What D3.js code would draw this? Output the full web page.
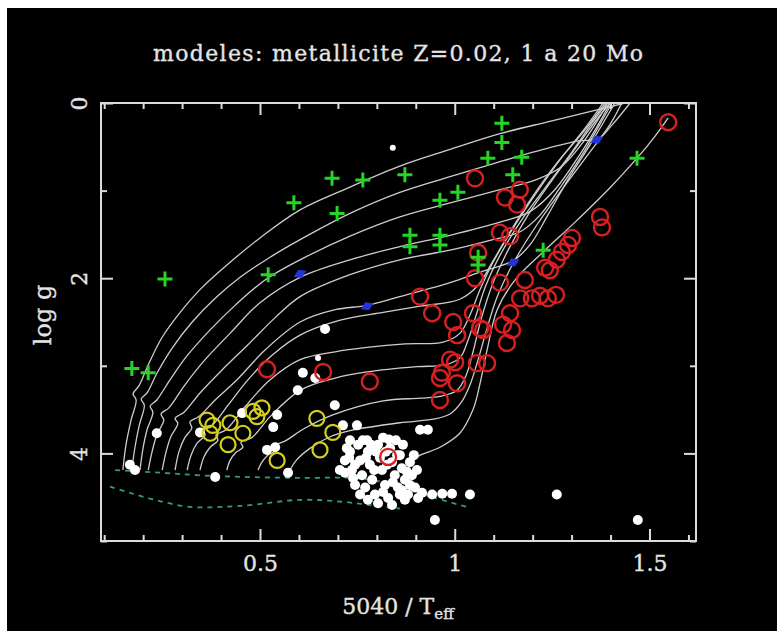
<!DOCTYPE html>
<html>
<head>
<meta charset="utf-8">
<script src="https://cdn.jsdelivr.net/npm/d3@7"></script>
<style>
  html, body { margin: 0; padding: 0; background: #ffffff; }
  svg { display: block; }
  text { font-family: "DejaVu Serif", serif; fill: #e4e4e4; stroke: #e4e4e4; stroke-width: 0.35px; }
</style>
</head>
<body>
<svg id="chart" width="784" height="631"></svg>
<script>
// Evolutionary tracks, Z = 0.02, in the (5040/Teff, log g) plane: [theta, logg]
const track20 = [[0.148,4.19],[0.156,3.90],[0.169,3.62],[0.182,3.39],[0.174,3.32],[0.189,3.23],[0.212,3.00],[0.248,2.68],[0.295,2.39],[0.346,2.13],[0.415,1.85],[0.500,1.54],[0.603,1.22],[0.731,0.96],[0.859,0.72],[0.988,0.53],[1.116,0.35],[1.244,0.21],[1.373,0.07],[1.437,0.00]];
const track15 = [[0.171,4.19],[0.179,3.93],[0.190,3.68],[0.203,3.45],[0.195,3.38],[0.210,3.31],[0.236,3.08],[0.274,2.80],[0.326,2.50],[0.385,2.23],[0.449,1.99],[0.526,1.76],[0.603,1.56],[0.731,1.26],[0.859,1.02],[0.988,0.84],[1.116,0.67],[1.244,0.51],[1.321,0.43],[1.368,0.41],[1.404,0.25],[1.450,0.00]];
const track12 = [[0.192,4.19],[0.199,3.96],[0.210,3.73],[0.225,3.53],[0.218,3.46],[0.235,3.39],[0.269,3.16],[0.312,2.89],[0.372,2.59],[0.436,2.31],[0.513,2.02],[0.603,1.79],[0.731,1.52],[0.859,1.30],[0.988,1.14],[1.116,0.99],[1.206,0.88],[1.270,0.74],[1.334,0.42],[1.393,0.00]];
const track9 = [[0.213,4.19],[0.223,3.98],[0.235,3.79],[0.253,3.62],[0.246,3.55],[0.266,3.48],[0.307,3.22],[0.359,2.93],[0.423,2.63],[0.500,2.28],[0.603,1.99],[0.731,1.79],[0.859,1.64],[0.988,1.51],[1.116,1.36],[1.193,1.24],[1.257,0.99],[1.321,0.59],[1.368,0.25],[1.399,0.00]];
const track7 = [[0.249,4.19],[0.259,3.98],[0.271,3.81],[0.289,3.66],[0.282,3.60],[0.305,3.53],[0.346,3.31],[0.402,3.05],[0.469,2.76],[0.539,2.45],[0.603,2.21],[0.731,1.96],[0.859,1.79],[0.988,1.68],[1.098,1.56],[1.168,1.47],[1.219,1.28],[1.270,0.97],[1.334,0.54],[1.386,0.14],[1.404,0.00]];
const track5 = [[0.282,4.19],[0.292,3.98],[0.307,3.82],[0.325,3.71],[0.320,3.64],[0.343,3.58],[0.385,3.39],[0.441,3.16],[0.513,2.82],[0.603,2.50],[0.693,2.36],[0.775,2.31],[0.859,2.21],[0.988,2.05],[1.065,1.93],[1.150,1.80],[1.193,1.62],[1.239,1.28],[1.290,0.88],[1.347,0.48],[1.398,0.10],[1.411,0.00]];
const track4 = [[0.313,4.19],[0.323,4.02],[0.339,3.88],[0.359,3.79],[0.354,3.73],[0.377,3.68],[0.418,3.45],[0.469,3.16],[0.531,2.88],[0.603,2.65],[0.706,2.48],[0.816,2.39],[0.911,2.32],[1.013,2.24],[1.060,2.08],[1.096,1.82],[1.142,1.47],[1.198,1.08],[1.265,0.67],[1.334,0.31],[1.386,0.00]];
const track3 = [[0.346,4.19],[0.356,4.04],[0.372,3.93],[0.392,3.85],[0.387,3.79],[0.413,3.73],[0.461,3.47],[0.526,3.16],[0.603,2.93],[0.693,2.84],[0.775,2.79],[0.873,2.75],[0.970,2.73],[1.013,2.63],[1.039,2.42],[1.065,2.13],[1.098,1.82],[1.147,1.45],[1.206,1.05],[1.270,0.65],[1.334,0.29],[1.381,0.00]];
const track2p5 = [[0.415,4.19],[0.423,4.08],[0.438,3.99],[0.456,3.93],[0.451,3.87],[0.479,3.82],[0.526,3.58],[0.603,3.28],[0.693,3.14],[0.775,3.07],[0.903,3.01],[0.975,2.99],[1.013,2.91],[1.034,2.71],[1.055,2.42],[1.080,2.08],[1.116,1.74],[1.168,1.36],[1.232,0.97],[1.296,0.59],[1.352,0.23],[1.391,0.00]];
const track2 = [[0.495,4.19],[0.505,4.10],[0.520,4.02],[0.539,3.97],[0.534,3.92],[0.564,3.86],[0.616,3.71],[0.687,3.56],[0.816,3.40],[0.911,3.37],[0.962,3.35],[1.006,3.28],[1.029,3.11],[1.047,2.84],[1.067,2.48],[1.096,2.08],[1.137,1.68],[1.188,1.28],[1.250,0.88],[1.316,0.48],[1.373,0.14],[1.399,0.00]];
const track1p5 = [[0.577,4.19],[0.593,4.08],[0.629,3.94],[0.680,3.81],[0.731,3.74],[0.859,3.65],[0.944,3.61],[0.988,3.55],[1.018,3.41],[1.039,3.22],[1.060,2.93],[1.083,2.57],[1.111,2.19],[1.155,1.79],[1.211,1.39],[1.275,0.99],[1.342,0.59],[1.398,0.25],[1.429,0.00]];
const track1 = [[0.872,4.28],[0.885,4.14],[0.903,4.04],[0.962,3.93],[1.013,3.77],[1.047,3.50],[1.065,3.20],[1.083,2.82],[1.109,2.36],[1.155,2.02],[1.227,1.70],[1.309,1.36],[1.398,0.97],[1.468,0.63],[1.514,0.38],[1.548,0.17]];
const tracks = [track20, track15, track12, track9, track7, track5, track4, track3, track2p5, track2, track1p5, track1];

// Zero-age main sequence limits (dashed)
const zamsUpper = [[0.128,4.19],[0.243,4.22],[0.346,4.25],[0.474,4.27],[0.603,4.28],[0.731,4.28],[0.808,4.32],[0.872,4.39],[0.936,4.49],[1.039,4.62]];
const zamsLower = [[0.115,4.38],[0.166,4.45],[0.230,4.53],[0.320,4.61],[0.449,4.60],[0.603,4.53],[0.706,4.55],[0.783,4.59],[0.859,4.63]];

// Observed stars
const greenStars = [[0.171,3.03],[0.213,3.08],[0.256,2.01],[0.521,1.96],[0.587,1.14],[0.685,0.86],[0.764,0.88],[0.872,0.82],[0.698,1.26],[0.962,1.11],[1.008,1.02],[0.885,1.51],[0.885,1.64],[0.962,1.51],[0.962,1.62],[1.060,1.76],[1.060,1.85],[1.085,0.63],[1.121,0.23],[1.121,0.45],[1.172,0.62],[1.149,0.82],[1.227,1.68],[1.468,0.63]];
const redStars = [[1.548,0.22],[1.052,0.86],[1.167,0.99],[1.129,1.08],[1.160,1.16],[1.116,1.48],[1.142,1.52],[1.060,1.71],[1.052,2.00],[0.911,2.21],[0.942,2.40],[0.996,2.50],[1.006,2.65],[1.047,2.40],[1.065,2.57],[1.124,2.53],[1.134,2.74],[1.116,2.05],[1.180,2.02],[1.198,2.23],[1.219,2.20],[1.239,2.23],[1.260,2.19],[1.244,1.91],[1.262,1.79],[1.275,1.70],[1.291,1.62],[1.301,1.54],[1.373,1.30],[1.378,1.42],[0.988,2.93],[1.001,2.96],[1.057,2.97],[1.083,2.97],[0.962,3.14],[1.006,3.20],[0.962,3.39],[0.518,3.04],[0.662,3.07],[0.782,3.18],[0.829,4.04],[1.147,2.59],[1.073,2.59],[0.967,3.08],[1.168,2.23],[1.232,1.88],[1.142,2.40]];
const yellowStars = [[0.364,3.62],[0.379,3.68],[0.372,3.77],[0.423,3.65],[0.456,3.77],[0.418,3.90],[0.482,3.52],[0.505,3.48],[0.492,3.58],[0.646,3.60],[0.687,3.76],[0.654,3.96],[0.544,4.08]];
const whiteStars = [[0.667,2.58],[0.610,3.08],[0.642,3.14],[0.597,3.28],[0.692,3.45],[0.713,3.68],[0.749,3.68],[0.775,3.85],[0.166,4.13],[0.179,4.19],[0.235,3.77],[0.346,3.76],[0.385,4.27],[0.454,3.54],[0.544,3.56],[0.534,3.70],[0.518,3.96],[0.539,3.93],[0.572,4.22],[0.911,3.73],[0.931,3.73],[0.916,4.45],[0.942,4.47],[0.968,4.46],[0.993,4.46],[1.039,4.47],[0.949,4.76],[1.262,4.47],[1.470,4.76]];
// dense group of dwarfs near 5040/Teff ~ 0.8, log g ~ 4.2
const dwarfGroup = [[0.718,4.08],[0.731,3.98],[0.736,4.19],[0.752,3.90],[0.757,4.08],[0.762,4.25],[0.770,4.39],[0.777,3.98],[0.782,4.13],[0.788,4.30],[0.795,4.47],[0.803,3.90],[0.808,4.05],[0.813,4.19],[0.821,4.36],[0.829,4.51],[0.834,3.94],[0.839,4.10],[0.846,4.25],[0.854,4.39],[0.859,4.02],[0.864,4.17],[0.872,4.30],[0.880,4.47],[0.885,4.10],[0.890,4.25],[0.731,3.85],[0.705,4.19],[0.744,4.36],[0.816,3.82],[0.849,3.85],[0.898,4.39],[0.872,4.53],[0.906,4.51],[0.803,4.57],[0.839,4.59],
  [0.723,3.94],[0.744,4.13],[0.764,3.85],[0.772,4.05],[0.793,4.19],[0.798,3.98],[0.823,3.98],[0.826,4.13],[0.841,4.33],[0.852,4.02],[0.867,3.90],[0.877,4.21],[0.895,4.02],[0.757,4.47],[0.777,4.53],[0.816,4.44],[0.859,4.47],[0.885,4.36],[0.739,4.28],[0.718,4.22],[0.785,3.90],[0.831,3.84],[0.864,4.42],[0.903,4.19],[0.729,4.05]];
const smallWhite = [[0.841,0.51],[0.649,2.91]];
const blueModels = [[0.603,1.95],[0.775,2.32],[1.150,1.82],[1.365,0.42]];

// Axis ticks
const xMajor = [0.5, 1, 1.5];
const xMinor = [0.1,0.2,0.3,0.4,0.6,0.7,0.8,0.9,1.1,1.2,1.3,1.4,1.6];
const yMajor = [0, 2, 4];
const yMinor = [1, 3, 5];

const svg = d3.select("#chart");
svg.append("rect").attr("x", 7).attr("y", 8).attr("width", 770).attr("height", 623).attr("fill", "#000");

const L = 101, R = 696, T = 103, B = 541;
const x = d3.scaleLinear().domain([0.0918, 1.6194]).range([L, R]);
const y = d3.scaleLinear().domain([0, 5]).range([T, B]);

svg.append("clipPath").attr("id", "plotClip")
  .append("rect").attr("x", L).attr("y", T).attr("width", R - L).attr("height", B - T);

const plot = svg.append("g").attr("clip-path", "url(#plotClip)");

const line = d3.line().x(d => x(d[0])).y(d => y(d[1])).curve(d3.curveCatmullRom.alpha(0.5));

// tracks
plot.selectAll("path.track").data(tracks).join("path")
  .attr("class", "track")
  .attr("d", line)
  .attr("fill", "none")
  .attr("stroke", "#cdcdcd")
  .attr("stroke-width", 1.3);

// ZAMS dashed lines
plot.selectAll("path.zams").data([zamsUpper, zamsLower]).join("path")
  .attr("class", "zams")
  .attr("d", line)
  .attr("fill", "none")
  .attr("stroke", "#33978d")
  .attr("stroke-width", 1.8)
  .attr("stroke-dasharray", "5,5");

// white field stars
plot.selectAll("circle.white").data(whiteStars.concat(dwarfGroup)).join("circle")
  .attr("class", "white")
  .attr("cx", d => x(d[0])).attr("cy", d => y(d[1])).attr("r", 5)
  .attr("fill", "#ffffff");
plot.selectAll("circle.swhite").data(smallWhite).join("circle")
  .attr("class", "swhite")
  .attr("cx", d => x(d[0])).attr("cy", d => y(d[1])).attr("r", 3)
  .attr("fill", "#ffffff");

// yellow open circles
plot.selectAll("circle.yellow").data(yellowStars).join("circle")
  .attr("class", "yellow")
  .attr("cx", d => x(d[0])).attr("cy", d => y(d[1])).attr("r", 7.5)
  .attr("fill", "none").attr("stroke", "#d4cf1e").attr("stroke-width", 2.2);

// red open circles
plot.selectAll("circle.red").data(redStars).join("circle")
  .attr("class", "red")
  .attr("cx", d => x(d[0])).attr("cy", d => y(d[1])).attr("r", 8)
  .attr("fill", "none").attr("stroke", "#d92020").attr("stroke-width", 2.4);

// green plus signs
plot.selectAll("path.green").data(greenStars).join("path")
  .attr("class", "green")
  .attr("transform", d => `translate(${x(d[0])},${y(d[1])})`)
  .attr("d", "M-7.5,0H7.5M0,-7.5V7.5")
  .attr("stroke", "#25d425").attr("stroke-width", 3).attr("fill", "none");

// blue model markers
plot.selectAll("path.blue").data(blueModels).join("path")
  .attr("class", "blue")
  .attr("transform", d => `translate(${x(d[0])},${y(d[1])}) rotate(-25)`)
  .attr("d", "M-7,0L0,-4.5L7,0L0,4.5Z")
  .attr("fill", "#2233d8");

// frame
const axes = svg.append("g");
axes.append("rect").attr("x", L).attr("y", T).attr("width", R - L).attr("height", B - T)
  .attr("fill", "none").attr("stroke", "#dcdcdc").attr("stroke-width", 2);

function styleAxis(g) {
  g.select(".domain").remove();
  g.selectAll(".tick line").attr("stroke", "#dcdcdc").attr("stroke-width", 2);
}
function styleLabels(g) {
  g.selectAll("text").attr("font-size", 22).attr("fill", "#e4e4e4").attr("font-family", "DejaVu Serif");
}

// bottom
axes.append("g").attr("transform", `translate(0,${B})`)
  .call(d3.axisBottom(x).tickValues(xMajor).tickSize(-12).tickPadding(14).tickFormat(d3.format("")))
  .call(styleAxis).call(styleLabels);
axes.append("g").attr("transform", `translate(0,${B})`)
  .call(d3.axisBottom(x).tickValues(xMinor).tickSize(-6).tickFormat(""))
  .call(styleAxis);
// top
axes.append("g").attr("transform", `translate(0,${T})`)
  .call(d3.axisTop(x).tickValues(xMajor).tickSize(-12).tickFormat(""))
  .call(styleAxis);
axes.append("g").attr("transform", `translate(0,${T})`)
  .call(d3.axisTop(x).tickValues(xMinor).tickSize(-6).tickFormat(""))
  .call(styleAxis);
// left
axes.append("g").attr("transform", `translate(${L},0)`)
  .call(d3.axisLeft(y).tickValues(yMajor).tickSize(-12).tickFormat(d3.format("")))
  .call(styleAxis).call(styleLabels)
  .call(g => g.selectAll("text")
    .attr("text-anchor", "middle").attr("x", 0).attr("y", -14).attr("dy", 0)
    .attr("transform", "rotate(-90)"));
axes.append("g").attr("transform", `translate(${L},0)`)
  .call(d3.axisLeft(y).tickValues(yMinor).tickSize(-6).tickFormat(""))
  .call(styleAxis);
// right
axes.append("g").attr("transform", `translate(${R},0)`)
  .call(d3.axisRight(y).tickValues(yMajor).tickSize(-12).tickFormat(""))
  .call(styleAxis);
axes.append("g").attr("transform", `translate(${R},0)`)
  .call(d3.axisRight(y).tickValues(yMinor).tickSize(-6).tickFormat(""))
  .call(styleAxis);

// title
svg.append("text").attr("x", 398).attr("y", 61).attr("text-anchor", "middle")
  .attr("font-size", 22).attr("textLength", 490).attr("lengthAdjust", "spacing")
  .text("modeles: metallicite Z=0.02, 1 a 20 Mo");

// x label
const xl = svg.append("text").attr("x", 398).attr("y", 614).attr("text-anchor", "middle").attr("font-size", 22);
xl.append("tspan").text("5040 / T");
xl.append("tspan").attr("font-size", 15).attr("dy", 5).text("eff");

// y label
svg.append("text").attr("transform", "translate(51,315) rotate(-90)").attr("text-anchor", "middle")
  .attr("font-size", 24).text("log g");
</script>
</body>
</html>
